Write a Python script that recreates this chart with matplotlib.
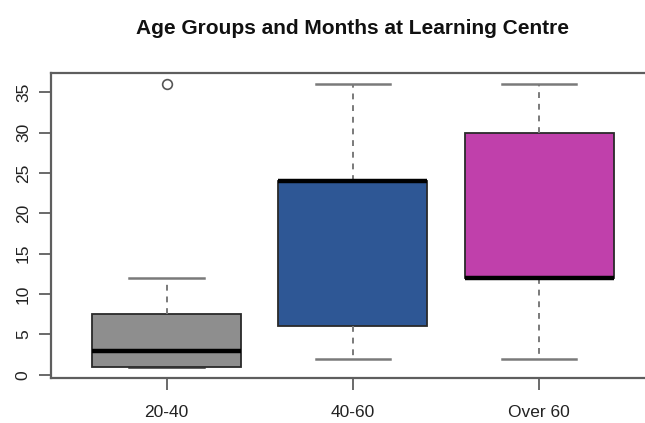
import matplotlib.pyplot as plt

plt.rcParams["font.family"] = ["Liberation Sans", "DejaVu Sans"]

# Five-number summaries of months at the centre, per age group
groups = ["20-40", "40-60", "Over 60"]
whisker_low = [1, 2, 2]
quart_low = [1, 6, 12]
medians = [3, 24, 12]
quart_high = [7.5, 24, 30]
whisker_high = [12, 36, 36]
outliers = [[36], [], []]
fills = ["#8e8e8e", "#2e5795", "#c040ab"]

stats = []
for i, name in enumerate(groups):
    stats.append(dict(label=name, whislo=whisker_low[i], q1=quart_low[i], med=medians[i],
                      q3=quart_high[i], whishi=whisker_high[i], fliers=outliers[i]))

fig = plt.figure(figsize=(6.45, 4.23), dpi=100)
ax = fig.add_axes([51 / 645, 45 / 423, 603.6 / 645, 305 / 423])

line_grey = "#5e5e5e"
parts = ax.bxp(stats, positions=[1, 2, 3], widths=0.8, patch_artist=True,
               boxprops=dict(edgecolor="#2a2a2a", linewidth=1.3),
               medianprops=dict(color="black", linewidth=3.2, solid_capstyle="butt"),
               whiskerprops=dict(color="#7a7a7a", linewidth=1.4, linestyle=(0, (3, 3))),
               capprops=dict(color="#7a7a7a", linewidth=1.8),
               flierprops=dict(marker="o", markersize=7, markerfacecolor="none",
                               markeredgecolor="#555555", markeredgewidth=1.2),
               capwidths=0.4)
for box, colour in zip(parts["boxes"], fills):
    box.set_facecolor(colour)
# lower cap of the first group sits on the box edge, drawn dark
parts["caps"][0].set_color("#333333")

ax.set_xlim(0.38, 3.62)
ax.set_ylim(-0.4, 37.4)
ax.set_yticks(range(0, 36, 5))
ax.set_xticks([1, 2, 3], groups)
for lab in ax.get_yticklabels():
    lab.set_rotation(90)
    lab.set_va("center")

for s in ax.spines.values():
    s.set_color(line_grey)
    s.set_linewidth(1.6)
ax.tick_params(axis="both", colors=line_grey, labelcolor="#222222", labelsize=12.5,
               width=1.3, length=8.5, direction="out")
ax.tick_params(axis="x", pad=11)
ax.tick_params(axis="y", pad=6)

fig.text(352.8 / 645, 1 - 28 / 423, "Age Groups and Months at Learning Centre",
         ha="center", va="center", fontsize=15, fontweight="bold", color="#111111")

fig.savefig("out.png", dpi=100)
